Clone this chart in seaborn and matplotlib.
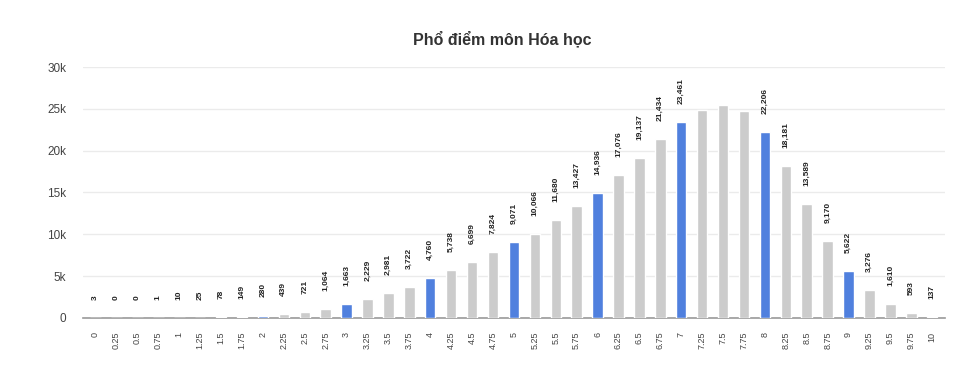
import matplotlib
matplotlib.use('Agg')
import matplotlib.pyplot as plt
import seaborn as sns
import pandas as pd

# score buckets and number of candidates per bucket
scores = ['0', '0.25', '0.5', '0.75', '1', '1.25', '1.5', '1.75', '2', '2.25',
          '2.5', '2.75', '3', '3.25', '3.5', '3.75', '4', '4.25', '4.5', '4.75',
          '5', '5.25', '5.5', '5.75', '6', '6.25', '6.5', '6.75', '7', '7.25',
          '7.5', '7.75', '8', '8.25', '8.5', '8.75', '9', '9.25', '9.5', '9.75', '10']
counts = [3, 0, 0, 1, 10, 25, 78, 149, 280, 439,
          721, 1064, 1663, 2229, 2981, 3722, 4760, 5738, 6699, 7824,
          9071, 10066, 11680, 13427, 14936, 17076, 19137, 21434, 23461, 24850,
          25400, 24700, 22206, 18181, 13589, 9170, 5622, 3276, 1610, 593, 137]
# buckets without a printed value in the chart
unlabeled = ['7.25', '7.5', '7.75']

GRAY = '#cccccc'
BLUE = '#5080de'

sns.set_style('white')
plt.rcParams['font.family'] = ['Liberation Sans', 'DejaVu Sans']

df = pd.DataFrame({'score': scores, 'count': counts})
df['whole'] = df['score'].apply(lambda s: 'int' if float(s).is_integer() else 'frac')

fig = plt.figure(figsize=(9.66, 3.83), dpi=100)
ax = fig.add_axes([0.086, 0.170, 0.892, 0.655])

sns.barplot(data=df, x='score', y='count', hue='whole', order=scores,
            palette={'int': BLUE, 'frac': GRAY}, dodge=False, width=0.5,
            saturation=1, legend=False, ax=ax, zorder=3)

for i, (s, c) in enumerate(zip(scores, counts)):
    if s in unlabeled:
        continue
    ax.annotate(f'{c:,}', (i, c), xytext=(0, 13), textcoords='offset points',
                rotation=90, ha='center', va='bottom', fontsize=6,
                fontweight='bold', color='#222222')

ax.set_ylim(0, 30000)
ax.set_xlim(-0.6, len(scores) - 0.4)
ax.set_yticks(range(0, 30001, 5000))
ax.set_yticklabels(['0', '5k', '10k', '15k', '20k', '25k', '30k'])
ax.yaxis.grid(True, color='#ebebeb', linewidth=1, zorder=0)
ax.set_axisbelow(True)
for side in ['top', 'right', 'left']:
    ax.spines[side].set_visible(False)
ax.spines['bottom'].set_color('#999999')
ax.spines['bottom'].set_linewidth(1.2)
ax.tick_params(axis='y', length=0, labelsize=8.5, labelcolor='#444444', pad=12)
ax.tick_params(axis='x', length=0, labelsize=6.5, labelcolor='#444444', pad=10,
               labelrotation=90)
ax.set_xlabel('')
ax.set_ylabel('')

fig.suptitle('Phổ điểm môn Hóa học', x=0.52, y=0.92, fontsize=11.5,
             fontweight='bold', color='#333333')

fig.savefig('out.png', dpi=100)
